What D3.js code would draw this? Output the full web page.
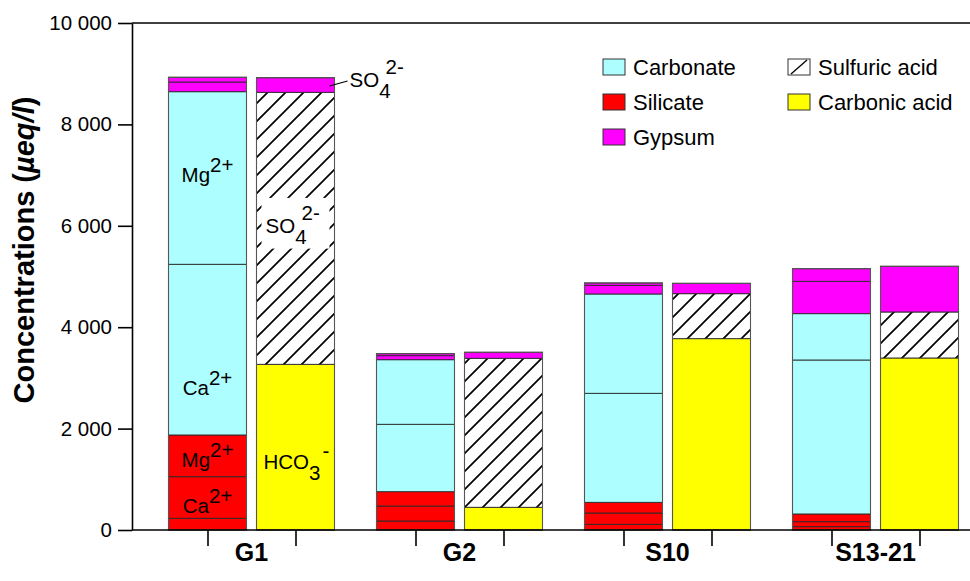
<!DOCTYPE html>
<html>
<head>
<meta charset="utf-8">
<script src="https://cdn.jsdelivr.net/npm/d3@7"></script>
<style>
  html, body { margin: 0; padding: 0; background: #fff; }
  svg { display: block; font-family: "Liberation Sans", Arial, Helvetica, sans-serif; }
</style>
</head>
<body>
<svg id="chart" width="970" height="581"></svg>
<script>
// Sites along the x axis
const groups = ["G1", "G2", "S10", "S13-21"];

// Cation budget (µeq/l), stacked bottom to top
const silicateBase = [231, 177, 112, 66];
const silicateCa   = [820, 296, 223, 98];
const silicateMg   = [823, 283, 211, 152];
const carbonateCa  = [3367, 1329, 2150, 3037];
const carbonateMg  = [3404, 1274, 1959, 914];
const gypsumLower  = [191, 79, 171, 638];
const gypsumUpper  = [93, 40, 46, 249];

// Anion budget (µeq/l), stacked bottom to top
const carbonicHCO3 = [3268, 448, 3774, 3393];
const sulfuricSO4  = [5365, 2939, 887, 907];
const gypsumSO4    = [288, 118, 204, 901];

const yTicks = [0, 2000, 4000, 6000, 8000, 10000];

const colors = {
  carbonate: "#adffff",
  silicate: "#ff0000",
  gypsum: "#ff00ff",
  carbonic: "#ffff00"
};

const svg = d3.select("#chart");
const plotL = 132, plotR = 970, plotT = 23, plotB = 530;

const y = d3.scaleLinear().domain([0, 10000]).range([plotB, plotT]);
const xg = d3.scalePoint().domain(groups).range([251.5, 875.5]);
const barOffset = 44, barW = 78;

const fmt = d3.formatLocale({ decimal: ".", thousands: " ", grouping: [3], currency: ["", ""] }).format(",d");

// hatch pattern for the sulfuric-acid share
const defs = svg.append("defs");
const pat = defs.append("pattern")
  .attr("id", "hatch").attr("patternUnits", "userSpaceOnUse")
  .attr("width", 18).attr("height", 18);
pat.append("rect").attr("width", 18).attr("height", 18).attr("fill", "#fff");
pat.append("path").attr("d", "M0,18 L18,0 M-4,4 L4,-4 M14,22 L22,14")
  .attr("stroke", "#000").attr("stroke-width", 1.7);

// stacked layers for each bar type
const cationKeys = ["sb", "sca", "smg", "cca", "cmg", "gl", "gu"];
const cationFill = {
  sb: colors.silicate, sca: colors.silicate, smg: colors.silicate,
  cca: colors.carbonate, cmg: colors.carbonate,
  gl: colors.gypsum, gu: colors.gypsum
};
const cationRows = groups.map((g, i) => ({
  group: g, sb: silicateBase[i], sca: silicateCa[i], smg: silicateMg[i],
  cca: carbonateCa[i], cmg: carbonateMg[i], gl: gypsumLower[i], gu: gypsumUpper[i]
}));
const anionKeys = ["hco3", "so4s", "so4g"];
const anionFill = { hco3: colors.carbonic, so4s: "url(#hatch)", so4g: colors.gypsum };
const anionRows = groups.map((g, i) => ({
  group: g, hco3: carbonicHCO3[i], so4s: sulfuricSO4[i], so4g: gypsumSO4[i]
}));

const cationStack = d3.stack().keys(cationKeys)(cationRows);
const anionStack = d3.stack().keys(anionKeys)(anionRows);

function drawStack(stack, fills, side) {
  const gBars = svg.append("g");
  stack.forEach(layer => {
    gBars.selectAll(null).data(layer).enter().append("rect")
      .attr("x", d => xg(d.data.group) + side * barOffset - barW / 2)
      .attr("width", barW)
      .attr("y", d => y(d[1]))
      .attr("height", d => y(d[0]) - y(d[1]))
      .attr("fill", fills[layer.key])
      .attr("stroke", "#2a2a2a")
      .attr("stroke-width", 0.9);
  });
  // outer outline of each bar
  const totals = stack[stack.length - 1];
  gBars.selectAll(null).data(totals).enter().append("rect")
    .attr("x", d => xg(d.data.group) + side * barOffset - barW / 2)
    .attr("width", barW)
    .attr("y", d => y(d[1]))
    .attr("height", d => y(0) - y(d[1]))
    .attr("fill", "none")
    .attr("stroke", "#555")
    .attr("stroke-width", 1.1);
}
drawStack(cationStack, cationFill, -1);
drawStack(anionStack, anionFill, 1);

// axes
const yAxis = svg.append("g").attr("transform", `translate(${plotL},0)`)
  .call(d3.axisLeft(y).tickValues(yTicks).tickFormat(fmt).tickSize(14).tickSizeOuter(0).tickPadding(6));
yAxis.select(".domain").attr("stroke-width", 1.6);
yAxis.selectAll(".tick line").attr("stroke-width", 1.6);
yAxis.selectAll("text").attr("font-size", 20.5).attr("fill", "#000")
  .attr("font-family", "'Liberation Sans', Arial, sans-serif");

const barKeys = [], barPos = [];
groups.forEach(g => {
  barKeys.push(g + "-c", g + "-a");
  barPos.push(xg(g) - barOffset, xg(g) + barOffset);
});
const xb = d3.scaleOrdinal().domain(barKeys).range(barPos);
const xAxis = svg.append("g").attr("transform", `translate(0,${plotB})`)
  .call(d3.axisBottom(xb).tickSize(16).tickSizeOuter(0).tickFormat(""));
xAxis.select(".domain").remove();
xAxis.selectAll(".tick line").attr("stroke-width", 1.6);

svg.append("line").attr("x1", plotL).attr("x2", plotR).attr("y1", plotB).attr("y2", plotB)
  .attr("stroke", "#000").attr("stroke-width", 1.6);
svg.append("line").attr("x1", plotL).attr("x2", plotR).attr("y1", plotT).attr("y2", plotT)
  .attr("stroke", "#000").attr("stroke-width", 1.6);

// group labels
svg.append("g").selectAll("text").data(groups).enter().append("text")
  .attr("x", d => xg(d)).attr("y", 561)
  .attr("text-anchor", "middle").attr("font-size", 25).attr("font-weight", "bold")
  .text(d => d);

// y-axis title
const yt = svg.append("text")
  .attr("transform", "translate(34,250) rotate(-90)")
  .attr("text-anchor", "middle").attr("font-size", 29).attr("font-weight", "bold");
yt.append("tspan").text("Concentrations (");
yt.append("tspan").attr("font-style", "italic").text("µeq/l");
yt.append("tspan").text(")");

// ion labels inside the first site's bars
function ionLabel(cx, value, parts, anchor) {
  const t = svg.append("text").attr("x", cx).attr("y", y(value))
    .attr("font-size", 20.5).attr("text-anchor", anchor || "middle");
  parts.forEach(p => {
    const s = t.append("tspan").text(p.t);
    if (p.dy) s.attr("dy", p.dy);
    if (p.dx) s.attr("dx", p.dx);
  });
  return t;
}
const g1c = xg("G1") - barOffset, g1a = xg("G1") + barOffset;
ionLabel(g1c, 6870, [{ t: "Mg" }, { t: "2+", dy: -10 }]);
ionLabel(g1c, 2663, [{ t: "Ca" }, { t: "2+", dy: -10 }]);
ionLabel(g1c, 1248, [{ t: "Mg" }, { t: "2+", dy: -10 }]);
ionLabel(g1c, 335, [{ t: "Ca" }, { t: "2+", dy: -10 }]);

// white panel behind the sulfate label in the hatched bar
svg.append("rect").attr("x", g1a - 34).attr("y", y(6550)).attr("width", 68).attr("height", y(5550) - y(6550))
  .attr("fill", "#fff");
ionLabel(g1a - 30, 5850, [{ t: "SO" }, { t: "4", dy: 11 }, { t: "2-", dy: -24, dx: -5 }], "start");
ionLabel(g1a - 32, 1197, [{ t: "HCO" }, { t: "3", dy: 11 }, { t: "-", dy: -22, dx: 2 }], "start");

// gypsum sulfate callout
const topG1 = carbonicHCO3[0] + sulfuricSO4[0] + gypsumSO4[0];
svg.append("line")
  .attr("x1", g1a + barW / 2 - 5).attr("y1", y(topG1 - gypsumSO4[0] / 2) + 1)
  .attr("x2", g1a + barW / 2 + 13).attr("y2", y(topG1 - gypsumSO4[0] / 2) - 4)
  .attr("stroke", "#000").attr("stroke-width", 1.2);
ionLabel(g1a + barW / 2 + 15, topG1 - 180, [{ t: "SO" }, { t: "4", dy: 11 }, { t: "2-", dy: -24, dx: -5 }], "start");

// legend
const legendItems = [
  { label: "Carbonate", fill: colors.carbonate, col: 0, row: 0 },
  { label: "Silicate", fill: colors.silicate, col: 0, row: 1 },
  { label: "Gypsum", fill: colors.gypsum, col: 0, row: 2 },
  { label: "Sulfuric acid", fill: "#fff", col: 1, row: 0, hatch: true },
  { label: "Carbonic acid", fill: colors.carbonic, col: 1, row: 1 }
];
const lg = svg.append("g").attr("transform", "translate(603,59)");
const li = lg.selectAll("g").data(legendItems).enter().append("g")
  .attr("transform", d => `translate(${d.col * 185},${d.row * 35})`);
li.append("rect").attr("width", 22).attr("height", 16)
  .attr("fill", d => d.fill).attr("stroke", "#333").attr("stroke-width", 1);
li.filter(d => d.hatch).append("line")
  .attr("x1", 3).attr("y1", 15).attr("x2", 19).attr("y2", 1)
  .attr("stroke", "#000").attr("stroke-width", 1.3);
li.append("text").attr("x", 30).attr("y", 15.5).attr("font-size", 22).text(d => d.label);
</script>
</body>
</html>
